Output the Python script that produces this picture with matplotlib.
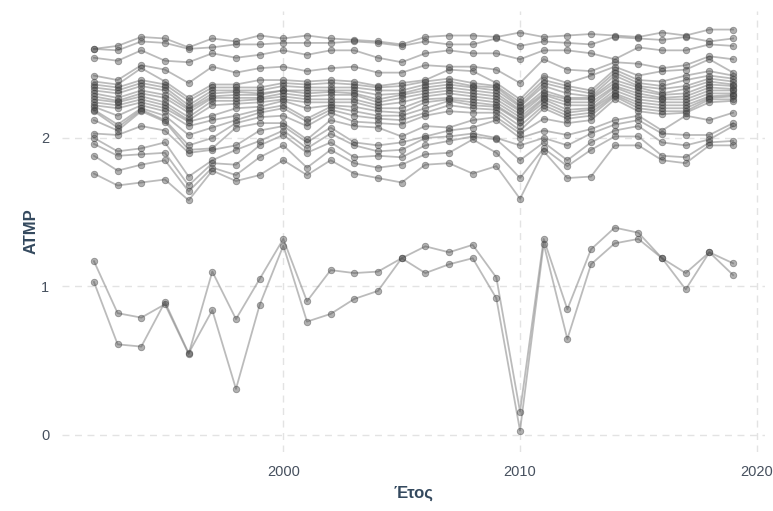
import numpy as np
import matplotlib
matplotlib.use("Agg")
from matplotlib import pyplot as plt

years = list(range(1992, 2020))

# upper cluster: values read per year, highest to lowest (22 per year)
upper_by_year = [
    [2.60, 2.60, 2.54, 2.42, 2.38, 2.36, 2.34, 2.32, 2.30, 2.28, 2.26, 2.24, 2.22, 2.21, 2.19, 2.18, 2.12, 2.03, 2.00, 1.96, 1.88, 1.76],  # 1992
    [2.62, 2.59, 2.52, 2.39, 2.36, 2.34, 2.32, 2.30, 2.27, 2.25, 2.24, 2.22, 2.20, 2.15, 2.09, 2.07, 2.05, 2.02, 1.91, 1.88, 1.78, 1.68],  # 1993
    [2.68, 2.65, 2.59, 2.49, 2.47, 2.39, 2.37, 2.35, 2.32, 2.30, 2.28, 2.26, 2.24, 2.22, 2.20, 2.19, 2.18, 2.08, 1.93, 1.89, 1.82, 1.70],  # 1994
    [2.67, 2.64, 2.52, 2.46, 2.38, 2.36, 2.34, 2.32, 2.29, 2.27, 2.24, 2.22, 2.20, 2.18, 2.15, 2.12, 2.11, 2.05, 1.97, 1.90, 1.85, 1.72],  # 1995
    [2.61, 2.60, 2.51, 2.37, 2.27, 2.25, 2.22, 2.20, 2.19, 2.17, 2.14, 2.12, 2.11, 2.08, 2.02, 1.95, 1.92, 1.90, 1.74, 1.68, 1.64, 1.58],  # 1996
    [2.67, 2.61, 2.57, 2.48, 2.36, 2.34, 2.32, 2.30, 2.28, 2.27, 2.25, 2.22, 2.15, 2.12, 2.07, 2.00, 1.93, 1.92, 1.85, 1.83, 1.80, 1.78],  # 1997
    [2.65, 2.63, 2.54, 2.44, 2.36, 2.34, 2.32, 2.31, 2.29, 2.27, 2.25, 2.23, 2.20, 2.15, 2.12, 2.10, 2.07, 1.95, 1.92, 1.82, 1.75, 1.71],  # 1998
    [2.69, 2.63, 2.56, 2.47, 2.39, 2.34, 2.32, 2.30, 2.29, 2.27, 2.26, 2.24, 2.21, 2.19, 2.17, 2.14, 2.10, 2.05, 1.98, 1.95, 1.87, 1.75],  # 1999
    [2.67, 2.64, 2.59, 2.48, 2.39, 2.37, 2.35, 2.32, 2.32, 2.30, 2.28, 2.26, 2.25, 2.22, 2.20, 2.15, 2.10, 2.08, 2.05, 2.02, 1.95, 1.85],  # 2000
    [2.69, 2.64, 2.56, 2.45, 2.38, 2.36, 2.34, 2.32, 2.30, 2.28, 2.26, 2.24, 2.20, 2.13, 2.11, 2.08, 1.99, 1.97, 1.93, 1.90, 1.80, 1.75],  # 2001
    [2.67, 2.64, 2.59, 2.47, 2.39, 2.37, 2.34, 2.32, 2.31, 2.29, 2.26, 2.24, 2.22, 2.21, 2.19, 2.17, 2.12, 2.07, 2.03, 1.97, 1.92, 1.85],  # 2002
    [2.66, 2.65, 2.59, 2.48, 2.38, 2.36, 2.34, 2.32, 2.30, 2.29, 2.26, 2.24, 2.21, 2.18, 2.15, 2.11, 2.08, 1.97, 1.95, 1.87, 1.83, 1.76],  # 2003
    [2.65, 2.64, 2.54, 2.44, 2.35, 2.34, 2.32, 2.29, 2.26, 2.24, 2.22, 2.20, 2.18, 2.15, 2.13, 2.10, 2.07, 1.95, 1.91, 1.88, 1.80, 1.73],  # 2004
    [2.63, 2.62, 2.51, 2.44, 2.37, 2.35, 2.32, 2.30, 2.29, 2.27, 2.24, 2.20, 2.17, 2.15, 2.12, 2.09, 2.01, 1.97, 1.92, 1.87, 1.82, 1.70],  # 2005
    [2.68, 2.65, 2.57, 2.49, 2.39, 2.38, 2.36, 2.34, 2.32, 2.30, 2.28, 2.26, 2.24, 2.20, 2.17, 2.15, 2.08, 2.01, 2.00, 1.95, 1.89, 1.82],  # 2006
    [2.69, 2.63, 2.59, 2.48, 2.46, 2.40, 2.38, 2.36, 2.34, 2.32, 2.30, 2.27, 2.26, 2.25, 2.22, 2.18, 2.07, 2.05, 2.01, 1.98, 1.90, 1.83],  # 2007
    [2.69, 2.63, 2.57, 2.48, 2.45, 2.37, 2.35, 2.34, 2.32, 2.30, 2.28, 2.26, 2.24, 2.22, 2.20, 2.17, 2.12, 2.07, 2.03, 2.01, 1.99, 1.76],  # 2008
    [2.68, 2.67, 2.57, 2.46, 2.37, 2.35, 2.34, 2.32, 2.30, 2.28, 2.26, 2.24, 2.22, 2.21, 2.19, 2.17, 2.14, 2.12, 2.00, 1.99, 1.90, 1.81],  # 2009
    [2.71, 2.62, 2.53, 2.37, 2.26, 2.24, 2.22, 2.21, 2.19, 2.18, 2.16, 2.14, 2.12, 2.11, 2.08, 2.05, 2.03, 2.00, 1.95, 1.85, 1.73, 1.59],  # 2010
    [2.68, 2.65, 2.59, 2.53, 2.42, 2.39, 2.37, 2.35, 2.32, 2.30, 2.29, 2.27, 2.26, 2.24, 2.22, 2.20, 2.13, 2.05, 2.00, 1.97, 1.93, 1.91],  # 2011
    [2.69, 2.64, 2.59, 2.46, 2.37, 2.35, 2.33, 2.30, 2.27, 2.26, 2.24, 2.22, 2.19, 2.17, 2.15, 2.13, 2.10, 2.02, 1.95, 1.85, 1.81, 1.73],  # 2012
    [2.70, 2.63, 2.57, 2.45, 2.42, 2.32, 2.30, 2.28, 2.27, 2.26, 2.24, 2.22, 2.20, 2.19, 2.17, 2.15, 2.12, 2.06, 2.03, 1.97, 1.92, 1.74],  # 2013
    [2.69, 2.68, 2.53, 2.51, 2.48, 2.46, 2.44, 2.42, 2.39, 2.37, 2.35, 2.34, 2.32, 2.30, 2.29, 2.28, 2.26, 2.12, 2.09, 2.05, 2.01, 1.95],  # 2014
    [2.68, 2.67, 2.61, 2.50, 2.42, 2.39, 2.37, 2.35, 2.34, 2.32, 2.30, 2.28, 2.26, 2.24, 2.22, 2.20, 2.18, 2.15, 2.12, 2.08, 2.01, 1.95],  # 2015
    [2.71, 2.66, 2.59, 2.47, 2.45, 2.38, 2.35, 2.33, 2.30, 2.29, 2.27, 2.26, 2.24, 2.22, 2.20, 2.18, 2.16, 2.05, 2.03, 1.97, 1.88, 1.85],  # 2016
    [2.69, 2.68, 2.59, 2.49, 2.46, 2.42, 2.39, 2.35, 2.33, 2.30, 2.28, 2.26, 2.24, 2.22, 2.20, 2.18, 2.17, 2.15, 2.02, 1.95, 1.87, 1.83],  # 2017
    [2.73, 2.65, 2.63, 2.55, 2.53, 2.45, 2.42, 2.40, 2.38, 2.36, 2.34, 2.32, 2.30, 2.28, 2.27, 2.26, 2.24, 2.12, 2.02, 1.99, 1.97, 1.95],  # 2018
    [2.73, 2.67, 2.62, 2.53, 2.44, 2.42, 2.40, 2.38, 2.36, 2.35, 2.33, 2.32, 2.30, 2.29, 2.28, 2.26, 2.25, 2.17, 2.10, 2.08, 1.98, 1.95],  # 2019
]

# the two low series
low_a = [1.17, 0.82, 0.79, 0.88, 0.545, 1.10, 0.78, 1.05, 1.32, 0.90, 1.11, 1.09, 1.10, 1.19,
         1.27, 1.23, 1.28, 1.06, 0.157, 1.32, 0.846, 1.25, 1.396, 1.362, 1.19, 1.09, 1.23, 1.156]
low_b = [1.03, 0.61, 0.595, 0.895, 0.55, 0.84, 0.31, 0.875, 1.275, 0.763, 0.815, 0.916, 0.97, 1.19,
         1.09, 1.149, 1.19, 0.92, 0.029, 1.286, 0.646, 1.149, 1.29, 1.32, 1.19, 0.98, 1.23, 1.077]

series = [list(s) for s in np.array(upper_by_year).T] + [low_a, low_b]

fig = plt.figure(figsize=(7.73, 5.11), dpi=100)
ax = fig.add_axes([62 / 773, 59 / 511, 703 / 773, 441 / 511])

for s in series:
    ax.plot(years, s, color="#8f8f8f", alpha=0.6, linewidth=1.3, zorder=2)
    ax.scatter(years, s, s=22, color="#444444", alpha=0.42, linewidths=0.6,
               edgecolors="#333333", zorder=3)

ax.set_xlim(1990.65, 2020.35)
ax.set_ylim(-0.115, 2.855)
ax.set_xticks([2000, 2010, 2020])
ax.set_yticks([0, 1, 2])

ax.grid(True, color="#e3e3e3", linestyle=(0, (5, 4)), linewidth=1.0)
ax.set_axisbelow(True)
for sp in ax.spines.values():
    sp.set_visible(False)
ax.tick_params(length=0, labelsize=10.5, labelcolor="#46505e", pad=9)
for lab in ax.get_xticklabels() + ax.get_yticklabels():
    lab.set_family("Liberation Sans")

ax.set_xlabel("Έτος", fontsize=12, fontweight="bold", color="#34495e",
              family="Liberation Sans", labelpad=5)
ax.set_ylabel("ATMP", fontsize=12, fontweight="bold", color="#34495e",
              family="Liberation Sans", labelpad=2)

fig.savefig("out.png", dpi=100)
